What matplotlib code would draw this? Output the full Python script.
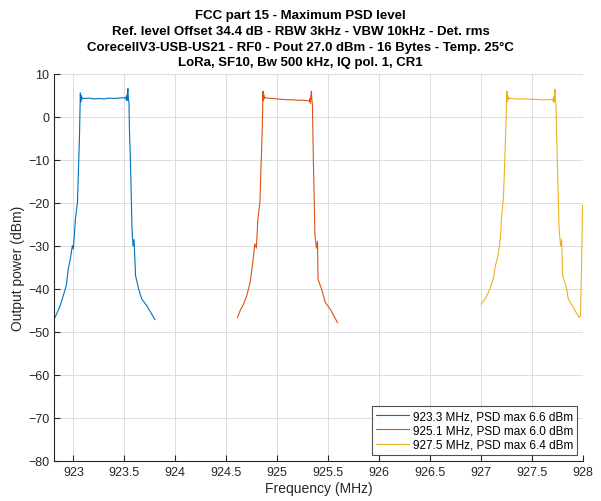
#!/usr/bin/env python
# -*- coding:utf-8 -*-
import numpy as np
import matplotlib
matplotlib.use('Agg')
import matplotlib.pyplot as plt

plt.rcParams['font.family'] = ['Liberation Sans', 'DejaVu Sans']

# channel 1 : 923.3 MHz
f1 = [922.82, 922.87, 922.90, 922.93, 922.95, 922.97, 922.99, 923.00, 923.02, 923.04,
      923.05, 923.06, 923.068, 923.072, 923.076, 923.08, 923.085, 923.10, 923.15, 923.20,
      923.25, 923.30, 923.35, 923.40, 923.45, 923.50, 923.515, 923.52, 923.525, 923.53,
      923.535, 923.54, 923.545, 923.55, 923.56, 923.575, 923.585, 923.595, 923.61, 923.64,
      923.67, 923.72, 923.76, 923.80]
p1 = [-46.6, -43.9, -41.6, -39.2, -35.3, -33.0, -29.9, -30.7, -23.7, -19.8,
      -12.1, -4.3, 5.6, 3.5, 5.0, 4.0, 4.5, 4.3, 4.4, 4.2,
      4.3, 4.2, 4.4, 4.3, 4.4, 4.5, 4.2, 4.9, 3.8, 5.6,
      6.6, 4.0, 3.4, -3.0, -10.5, -26.0, -30.0, -28.5, -36.9, -40.0,
      -42.3, -43.9, -45.5, -47.1]

# channel 2 : 925.1 MHz
f2 = [924.61, 924.64, 924.67, 924.70, 924.735, 924.76, 924.78, 924.795, 924.81, 924.83,
      924.84, 924.853, 924.86, 924.864, 924.868, 924.872, 924.878, 924.90, 924.95, 925.00,
      925.05, 925.10, 925.15, 925.20, 925.25, 925.30, 925.315, 925.32, 925.325, 925.33,
      925.335, 925.34, 925.345, 925.35, 925.356, 925.37, 925.385, 925.395, 925.40, 925.44,
      925.47, 925.52, 925.55, 925.59]
p2 = [-46.6, -44.8, -43.5, -41.6, -38.4, -33.8, -29.5, -30.5, -23.7, -19.8,
      -12.1, -2.8, 6.0, 3.8, 5.2, 4.2, 4.6, 4.4, 4.3, 4.2,
      4.1, 4.0, 4.0, 3.9, 3.9, 3.8, 3.6, 4.3, 3.2, 5.0,
      6.0, 3.8, 3.0, -4.0, -12.1, -27.6, -30.5, -29.0, -37.7, -40.4,
      -43.1, -44.7, -46.0, -47.8]

# channel 3 : 927.5 MHz
f3 = [927.00, 927.04, 927.08, 927.12, 927.14, 927.16, 927.18, 927.19, 927.20, 927.22,
      927.235, 927.248, 927.254, 927.258, 927.262, 927.266, 927.272, 927.30, 927.35, 927.40,
      927.45, 927.50, 927.55, 927.60, 927.65, 927.69, 927.705, 927.71, 927.715, 927.72,
      927.725, 927.73, 927.735, 927.74, 927.75, 927.765, 927.78, 927.79, 927.80, 927.84,
      927.855, 927.905, 927.96, 927.975, 927.985, 927.995]
p3 = [-43.5, -42.3, -40.4, -37.7, -34.6, -32.9, -29.9, -28.0, -23.7, -18.3,
      -8.2, 2.0, 6.0, 3.6, 5.0, 4.0, 4.4, 4.3, 4.2, 4.2,
      4.2, 4.1, 4.1, 4.0, 4.0, 4.1, 3.8, 4.6, 3.4, 5.3,
      6.4, 4.0, 3.0, -3.5, -12.1, -26.0, -30.0, -28.5, -36.9, -40.0,
      -42.3, -44.3, -46.6, -46.2, -35.3, -20.6]

labels = ['923.3 MHz, PSD max 6.6 dBm',
          '925.1 MHz, PSD max 6.0 dBm',
          '927.5 MHz, PSD max 6.4 dBm']
colors = ['#0072BD', '#D95319', '#EDB120']

xticks = np.arange(923, 928.01, 0.5)
yticks = np.arange(-80, 10.1, 10)

fig = plt.figure(figsize=(6.01, 5.02), dpi=100)
ax = fig.add_axes([0.0899, 0.0797, 0.8802, 0.7709])

for f, p, lab, c in zip([f1, f2, f3], [p1, p2, p3], labels, colors):
    ax.plot(f, p, color=c, lw=0.8, label=lab)

ax.set_xlim(922.81, 928)
ax.set_ylim(-80, 10)
ax.set_xticks(xticks)
ax.set_xticklabels(['%g' % t for t in xticks])
ax.set_yticks(yticks)
ax.grid(True, color='#dcdcdc', lw=0.7)
ax.set_axisbelow(True)
ax.spines['top'].set_visible(False)
ax.spines['right'].set_visible(False)
for s in ['left', 'bottom']:
    ax.spines[s].set_color('#262626')
    ax.spines[s].set_linewidth(0.8)
ax.tick_params(direction='in', length=4, colors='#262626', labelsize=9, width=0.8)

ax.set_xlabel('Frequency (MHz)', fontsize=10, color='#262626', labelpad=2)
ax.set_ylabel('Output power (dBm)', fontsize=10, color='#262626', labelpad=2)

title = ('FCC part 15 - Maximum PSD level\n'
         'Ref. level Offset 34.4 dB - RBW 3kHz - VBW 10kHz - Det. rms\n'
         'CorecellV3-USB-US21 - RF0 - Pout 27.0 dBm - 16 Bytes - Temp. 25\u00b0C\n'
         'LoRa, SF10, Bw 500 kHz, IQ pol. 1, CR1')
fig.text(0.5, 0.98, title, ha='center', va='top', fontsize=9.5,
         fontweight='bold', linespacing=1.42)

leg = ax.legend(loc='lower right', fontsize=8.5, frameon=True, fancybox=False,
                edgecolor='#262626', handlelength=2.8, borderpad=0.35,
                labelspacing=0.2, handletextpad=0.3, borderaxespad=0.5)
leg.get_frame().set_linewidth(0.8)

fig.savefig('out.png', dpi=100)
